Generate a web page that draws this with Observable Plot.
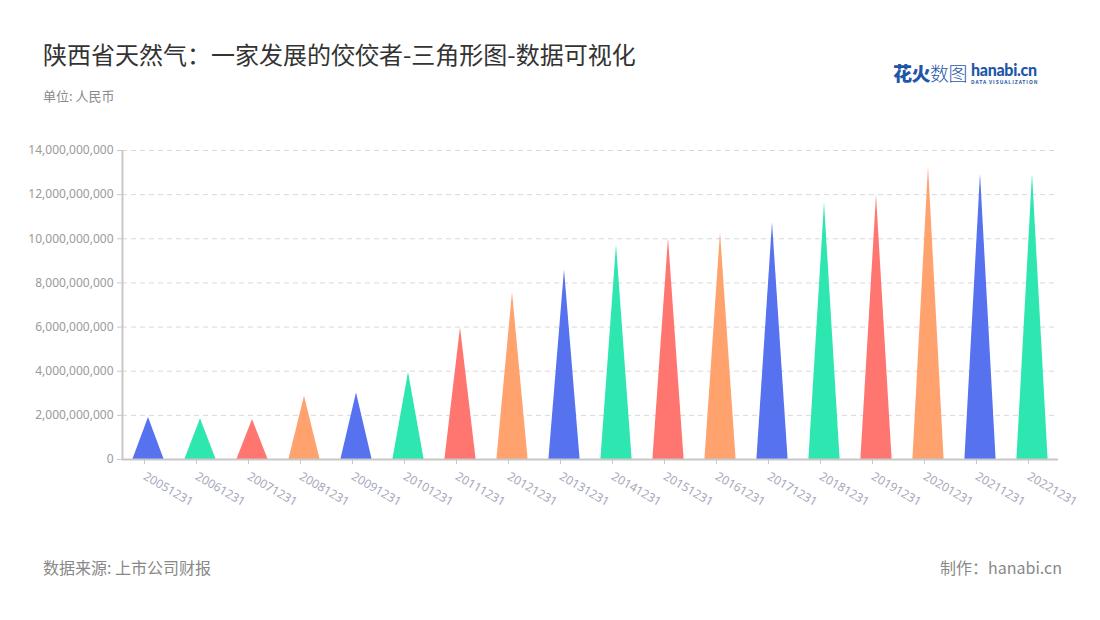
<!DOCTYPE html>
<html>
<head>
<meta charset="utf-8">
<script src="https://cdn.jsdelivr.net/npm/d3@7"></script>
<script src="https://cdn.jsdelivr.net/npm/@observablehq/plot@0.6"></script>
<style>
  html, body { margin: 0; padding: 0; background: #fff; width: 1100px; height: 620px; overflow: hidden; }
  body { position: relative; font-family: "Noto Sans CJK SC", "Noto Sans", sans-serif; }
  #title { position: absolute; left: 43px; top: 36px; font-size: 24px; color: #333; font-weight: 400; }
  #sub { position: absolute; left: 43px; top: 86px; font-size: 13px; color: #8a8a8a; }
  #src { position: absolute; left: 43px; top: 555px; font-size: 16px; color: #888; }
  #made { position: absolute; right: 38px; top: 555px; font-size: 16px; color: #888; }
  #logo { position: absolute; left: 893px; top: 59px; color: #1f57a8; white-space: nowrap; }
  #logo .cn { font-size: 19px; vertical-align: top; letter-spacing: -0.5px; }
  #logo .cn .b { font-weight: 900; }
  #logo .cn .t { font-weight: 300; }
  #logo .en { display: inline-block; vertical-align: top; margin-left: 4px; line-height: 1; }
  #logo .en b { font-family: "Lato", sans-serif; font-size: 16px; font-weight: 900; display: block; margin-top: 3px; letter-spacing: -0.3px; }
  #logo .en i { font-style: normal; font-size: 5px; letter-spacing: 0.9px; display: block; margin-top: 1px; font-weight: 700; }
  #chart { position: absolute; left: 0; top: 130px; }
</style>
</head>
<body>
<div id="title">陕西省天然气：一家发展的佼佼者-三角形图-数据可视化</div>
<div id="sub">单位: 人民币</div>
<div id="logo"><span class="cn"><span class="b">花火</span><span class="t">数图</span></span><span class="en"><b>hanabi.cn</b><i>DATA VISUALIZATION</i></span></div>
<div id="chart"></div>
<div id="src">数据来源: 上市公司财报</div>
<div id="made">制作：hanabi.cn</div>
<script>
const categories = ["20051231","20061231","20071231","20081231","20091231","20101231","20111231","20121231","20131231","20141231","20151231","20161231","20171231","20181231","20191231","20201231","20211231","20221231"];
const values = [1.90e9, 1.85e9, 1.81e9, 2.87e9, 3.01e9, 3.94e9, 5.97e9, 7.57e9, 8.59e9, 9.72e9, 10.02e9, 10.28e9, 10.73e9, 11.63e9, 11.96e9, 13.29e9, 12.94e9, 12.94e9];
const palette = ["#5672ee", "#2ee6b0", "#ff7570", "#ffa26e"];
const yTicks = [0, 2e9, 4e9, 6e9, 8e9, 10e9, 12e9, 14e9];

const half = 0.3;
const pts = [];
categories.forEach((c, i) => {
  const v = values[i];
  pts.push({cat: c, x: i - half, y: 0, k: i % 4});
  pts.push({cat: c, x: i, y: v, k: i % 4});
  pts.push({cat: c, x: i + half, y: 0, k: i % 4});
});
const idx = categories.map((c, i) => i);
const fmt = d3.format(",");

const chart = Plot.plot({
  width: 1100,
  height: 400,
  marginLeft: 122,
  marginRight: 42,
  marginTop: 20,
  marginBottom: 71,
  style: {fontFamily: "'Noto Sans', 'Noto Sans CJK SC', sans-serif", fontSize: "12px", background: "transparent"},
  x: {domain: [-0.5, categories.length - 0.5], axis: null},
  y: {domain: [0, 14e9], axis: null},
  color: {type: "ordinal", domain: [0, 1, 2, 3], range: palette},
  marks: [
    Plot.gridY(yTicks, {stroke: "#d9d9d9", strokeOpacity: 1, strokeDasharray: "5,4"}),
    Plot.areaY(pts, {x: "x", y: "y", z: "cat", fill: "k", fillOpacity: 1}),
    Plot.axisY(yTicks, {tickFormat: fmt, tickSize: 5, tickPadding: 4, stroke: "#c8c8c8", fill: "#9a9a9a", fontSize: 12, label: null}),
    Plot.ruleX([-0.5], {stroke: "#c8c8c8", strokeWidth: 2}),
    Plot.ruleY([0], {stroke: "#c8c8c8", strokeWidth: 2}),
    Plot.axisX(idx, {tickFormat: i => categories[i], tickSize: 5, tickPadding: 11, dx: -4, tickRotate: 30, stroke: "#c8c8c8", fill: "#a6a9bd", fontSize: 12, label: null})
  ]
});
document.getElementById("chart").appendChild(chart);
</script>
</body>
</html>
